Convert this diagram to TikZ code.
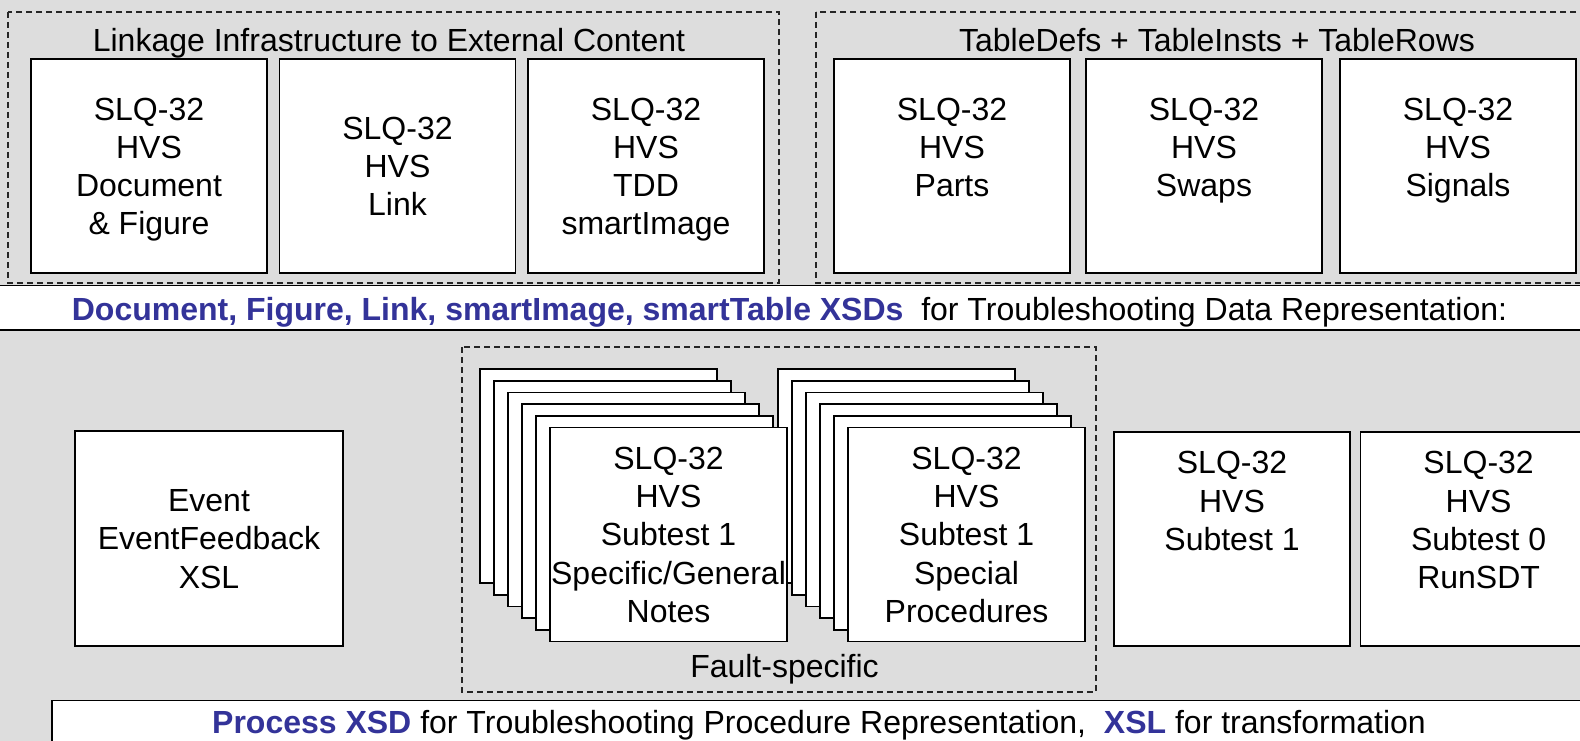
\documentclass[tikz,border=0pt]{standalone}
\usepackage{fontspec}
\setmainfont{Liberation Sans}
\definecolor{bg}{RGB}{221,221,221}
\definecolor{xsdblue}{RGB}{51,51,153}
\newcommand\mystrut{\rule[-7.7pt]{0pt}{38.3pt}}
\begin{document}
\begin{tikzpicture}[x=1pt,y=-1pt,
  box/.style={draw=black, fill=white, line width=1.6pt, inner sep=0pt, align=center,
    font=\fontsize{32}{38.3}\selectfont, minimum width=236pt, minimum height=214pt},
  grp/.style={draw=black!85, dash pattern=on 6pt off 4pt, line width=1.3pt},
  lbl/.style={font=\fontsize{32}{38.3}\selectfont, inner sep=0pt, anchor=base},
  band/.style={draw=black, fill=white, line width=1.6pt}]
\fill[bg] (0,0) rectangle (1580,741);
\useasboundingbox (0,0) rectangle (1580,741);
\clip (0,0) rectangle (1580,741);

% top groups
\draw[grp] (8,12) rectangle (779,283);
\draw[grp] (816,12) rectangle (1595,283);
\node[lbl] (t1) at (389,52) {Linkage Infrastructure to External Content};
\node[lbl] (t2) at (1217,52) {TableDefs + TableInsts + TableRows};

\node[box] (b1) at (149,166) {\mystrut SLQ-32\\HVS\\Document\\\& Figure\mystrut};
\node[box] (b2) at (397.5,166) {\mystrut SLQ-32\\HVS\\Link\mystrut};
\node[box] (b3) at (646,166) {\mystrut SLQ-32\\HVS\\TDD\\smartImage\mystrut};
\node[box] (b4) at (952,166) {\mystrut SLQ-32\\HVS\\Parts\\\mystrut};
\node[box] (b5) at (1204,166) {\mystrut SLQ-32\\HVS\\Swaps\\\mystrut};
\node[box] (b6) at (1458,166) {\mystrut SLQ-32\\HVS\\Signals\\\mystrut};

% band
\draw[band] (-5,285.5) rectangle (1595,330);
\node[lbl] (bandtext) at (789.5,320) {\textcolor{xsdblue}{\bfseries Document, Figure, Link, smartImage, smartTable XSDs}\ \ for Troubleshooting Data Representation:};

% lower
\draw[grp] (462,347) rectangle (1096,692);
\node[lbl] (fs) at (784.5,677) {Fault-specific};

\node[box, minimum width=268pt, minimum height=215pt] (ev) at (209,538.5) {\mystrut Event\\EventFeedback\\XSL\mystrut};

% second stack (drawn first, lies under the first stack)
\foreach \k in {0,...,4} {
  \node[box, minimum width=237pt] (sb\k) at (896.5+14*\k, 476+11.7*\k) {};
}
\node[box, minimum width=237pt] (sb5) at (966.5,534.5) {\mystrut SLQ-32\\HVS\\Subtest 1\\Special\\Procedures\mystrut};
% first stack
\foreach \k in {0,...,4} {
  \node[box, minimum width=237pt] (sa\k) at (598.5+14*\k, 476+11.7*\k) {};
}
\node[box, minimum width=237pt] (sa5) at (668.5,534.5) {\mystrut SLQ-32\\HVS\\Subtest 1\\Specific/General\\Notes\mystrut};

\node[box] (st1) at (1232,539) {\mystrut SLQ-32\\HVS\\Subtest 1\\\mystrut\\\mystrut};
\node[box] (st0) at (1478.6,539) {\mystrut SLQ-32\\HVS\\Subtest 0\\RunSDT\\\mystrut};

% bottom
\draw[band] (52,700.5) rectangle (1595,760);
\node[lbl] (bottomtext) at (819,733) {\textcolor{xsdblue}{\bfseries Process XSD} for Troubleshooting Procedure Representation,\ \ \textcolor{xsdblue}{\bfseries XSL} for transformation};
\end{tikzpicture}
\end{document}
